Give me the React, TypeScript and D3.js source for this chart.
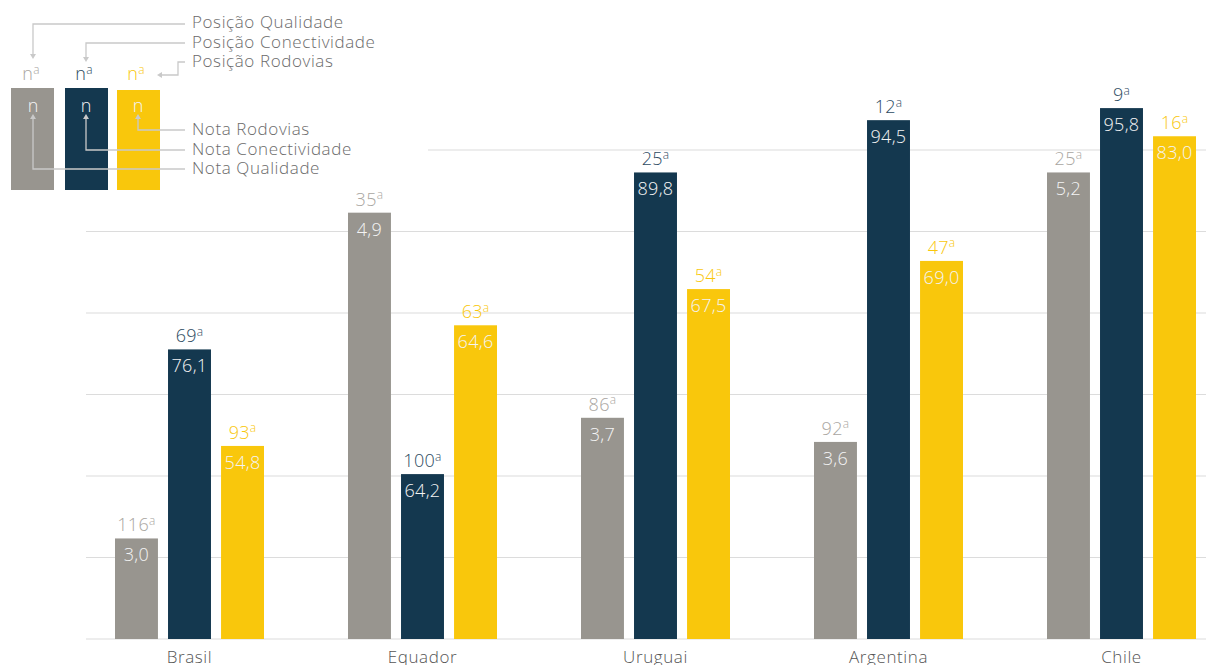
import React from "react";
import * as d3 from "d3";

const countries = ["Brasil", "Equador", "Uruguai", "Argentina", "Chile"];
const seriesKeys = ["qualidade", "conectividade", "rodovias"];
const totalCountries = 141;
const rankQualidade = [116, 35, 86, 92, 25];
const rankConectividade = [69, 100, 25, 12, 9];
const rankRodovias = [93, 63, 54, 47, 16];
const notaQualidade = [3.0, 4.9, 3.7, 3.6, 5.2];
const notaConectividade = [76.1, 64.2, 89.8, 94.5, 95.8];
const notaRodovias = [54.8, 64.6, 67.5, 69.0, 83.0];
const gridSteps = [0, 1, 2, 3, 4, 5, 6];
const legendPos = ["Posição Qualidade", "Posição Conectividade", "Posição Rodovias"];
const legendNota = ["Nota Rodovias", "Nota Conectividade", "Nota Qualidade"];

const W = 1206;
const H = 665;
const FONT = "'Open Sans', 'Noto Sans', sans-serif";
const barColors = ["#98958f", "#14384f", "#f9c70c"];
const rankColors = ["#a9a6a1", "#2d4b62", "#f9c70c"];
const lineColor = "#c9c9c9";
const textColor = "#6b6b6b";

const ranks = [rankQualidade, rankConectividade, rankRodovias];
const notas = [notaQualidade, notaConectividade, notaRodovias];

const fmt = (v: number) => d3.format(".1f")(v).replace(".", ",");

const baseY = 639;
const y = d3.scaleLinear().domain([0, totalCountries]).range([baseY, baseY - totalCountries * 4.022]);
const grid = d3.scaleLinear().domain([0, 6]).range([baseY, 150]);
const x0 = d3.scaleBand<string>().domain(countries).range([73, 1238]).paddingInner(0).paddingOuter(0);
const x1 = d3.scaleBand<string>().domain(seriesKeys).range([0, 149]).paddingInner(0.19).paddingOuter(0);

function Ord({ n, fill, x, yy, size = 18 }: { n: string; fill: string; x: number; yy: number; size?: number }) {
  return (
    <text x={x} y={yy} textAnchor="middle" fill={fill} fontSize={size} fontWeight={300} fontFamily={FONT} letterSpacing={0.3}>
      {n}
      <tspan fontSize={size * 0.66} dy={-size * 0.36}>a</tspan>
    </text>
  );
}

export default function App() {
  const bw = x1.bandwidth();
  const groupOff = (x0.bandwidth() - 149) / 2;
  return (
    <svg width={W} height={H} style={{ position: "absolute", left: 0, top: 0, background: "#fff" }}>
      {gridSteps.map((g) => (
        <line key={g} x1={86} x2={W} y1={grid(g)} y2={grid(g)} stroke="#dcdcdc" strokeWidth={1.2} />
      ))}
      <rect x={0} y={0} width={428} height={194} fill="#fff" />
      {countries.map((c, ci) => (
        <g key={c} transform={`translate(${(x0(c) as number) + groupOff},0)`}>
          {seriesKeys.map((k, si) => {
            const v = totalCountries - ranks[si][ci];
            const bx = x1(k) as number;
            const top = y(v);
            return (
              <g key={k}>
                <rect x={bx} y={top} width={bw} height={baseY - top} fill={barColors[si]} />
                <Ord n={String(ranks[si][ci])} fill={rankColors[si]} x={bx + bw / 2} yy={top - 7} />
                <text x={bx + bw / 2} y={top + 23} textAnchor="middle" fill="#f4f4f4" fontSize={18} fontWeight={300} fontFamily={FONT} letterSpacing={0.3}>
                  {fmt(notas[si][ci])}
                </text>
              </g>
            );
          })}
          <text x={x0.bandwidth() / 2 - groupOff} y={663} textAnchor="middle" fill="#555" fontSize={17} fontWeight={300} fontFamily={FONT} letterSpacing={0.6}>
            {c}
          </text>
        </g>
      ))}
      {/* legend */}
      <g>
        <rect x={11} y={88} width={43} height={102} fill={barColors[0]} />
        <rect x={65} y={88} width={43} height={102} fill={barColors[1]} />
        <rect x={117} y={90} width={43} height={100} fill={barColors[2]} />
        {[33, 86, 138].map((cx, i) => (
          <g key={i}>
            <Ord n="n" fill={rankColors[i]} x={cx - 2} yy={80} />
            <text x={cx} y={112} textAnchor="middle" fill="#f4f4f4" fontSize={18} fontWeight={300} fontFamily={FONT}>n</text>
          </g>
        ))}
        <g fill="none" stroke={lineColor} strokeWidth={1.3}>
          <path d="M185,24 H33 V55" />
          <path d="M185,43 H86 V58" />
          <path d="M185,62 H178 V75 H161" />
          <path d="M185,130 H138 V118" />
          <path d="M185,150 H86 V118" />
          <path d="M185,169 H33 V118" />
        </g>
        <g fill={lineColor}>
          <path d="M30,54 L36,54 L33,59 Z" />
          <path d="M83,57 L89,57 L86,62 Z" />
          <path d="M162,72 L162,78 L157,75 Z" />
          {[33, 86, 138].map((cx) => (
            <path key={cx} d={`M${cx - 3},119 L${cx + 3},119 L${cx},114 Z`} />
          ))}
        </g>
        {legendPos.map((t, i) => (
          <text key={t} x={192} y={28 + i * 19.5} fill={textColor} fontSize={17} fontWeight={300} fontFamily={FONT} letterSpacing={0.6}>{t}</text>
        ))}
        {legendNota.map((t, i) => (
          <text key={t} x={192} y={135 + i * 19.5} fill={textColor} fontSize={17} fontWeight={300} fontFamily={FONT} letterSpacing={0.6}>{t}</text>
        ))}
      </g>
    </svg>
  );
}
